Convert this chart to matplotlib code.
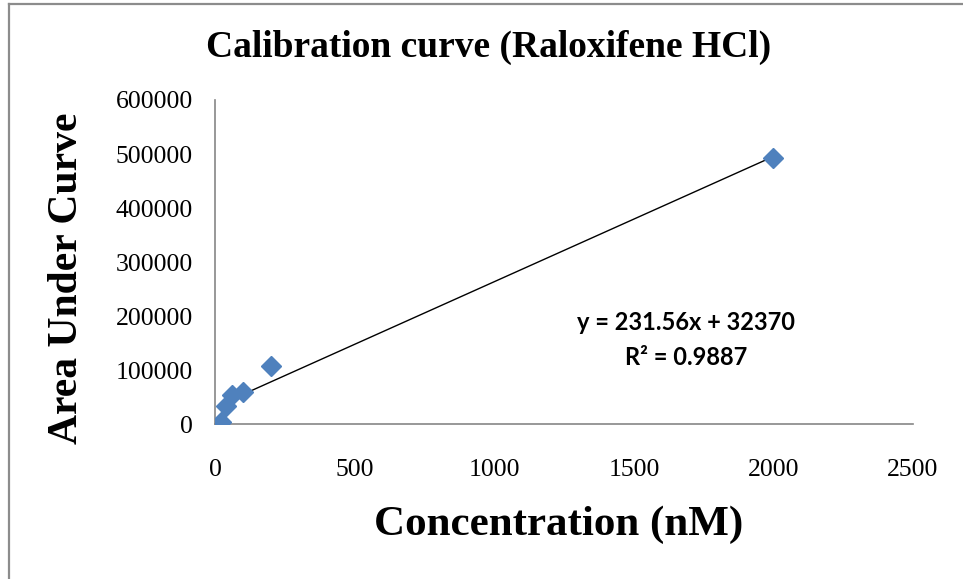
import numpy as np
import matplotlib
matplotlib.use("Agg")
import matplotlib.pyplot as plt
from matplotlib.lines import Line2D

# ----------------------------
# DATA
# ----------------------------
concentration = [20, 40, 60, 100, 200, 2000]          # nM
auc = [5000, 33000, 55000, 59000, 107000, 493000]     # area under curve

slope = 231.56
intercept = 32370
r_squared = 0.9887

x_ticks = [0, 500, 1000, 1500, 2000, 2500]
y_ticks = [0, 100000, 200000, 300000, 400000, 500000, 600000]

# ----------------------------
# FIGURE
# ----------------------------
fig = plt.figure(figsize=(9.63, 5.79), dpi=100)
ax = fig.add_axes([0.2236, 0.2672, 0.7245, 0.5601])

serif = "Liberation Serif"

# scatter points
ax.plot(
    concentration,
    auc,
    linestyle="none",
    marker="D",
    markersize=10,
    color="#4F81BD",
    zorder=3
)

# linear trendline over the data range
fit_x = np.array([min(concentration), max(concentration)])
fit_y = slope * fit_x + intercept
ax.plot(fit_x, fit_y, color="black", linewidth=1, zorder=2)

ax.set_xlim(0, 2500)
ax.set_ylim(0, 600000)
ax.set_xticks(x_ticks)
ax.set_yticks(y_ticks)
ax.set_xticklabels([str(t) for t in x_ticks], fontfamily=serif, fontsize=18.5)
ax.set_yticklabels([str(t) for t in y_ticks], fontfamily=serif, fontsize=18.5)
ax.tick_params(axis="both", length=0)
ax.tick_params(axis="x", pad=25)
ax.tick_params(axis="y", pad=16)

for side in ["top", "right"]:
    ax.spines[side].set_visible(False)
for side in ["left", "bottom"]:
    ax.spines[side].set_color("#868686")
    ax.spines[side].set_linewidth(1.2)

# ----------------------------
# TEXT
# ----------------------------
fig.text(
    0.507, 1 - 47 / 579,
    "Calibration curve (Raloxifene HCl)",
    ha="center", va="center",
    fontfamily=serif, fontweight="bold", fontsize=27
)

fig.text(
    0.58, 1 - 525 / 579,
    "Concentration (nM)",
    ha="center", va="center",
    fontfamily=serif, fontweight="bold", fontsize=31
)

fig.text(
    67 / 963, 1 - 278 / 579,
    "Area Under Curve",
    ha="center", va="center", rotation=90,
    fontfamily=serif, fontweight="bold", fontsize=30
)

fig.text(
    686 / 963, 1 - 340 / 579,
    f"y = {slope:.2f}x + {intercept}\nR² = {r_squared}",
    ha="center", va="center", multialignment="center",
    fontfamily="Lato", fontweight="bold", fontsize=17,
    linespacing=1.6
)

# ----------------------------
# OUTER FRAME
# ----------------------------
frame_color = "#8c8c8c"
fig.add_artist(Line2D([8.5 / 963, 8.5 / 963], [0, 1 - 3.5 / 579],
                      transform=fig.transFigure, color=frame_color, linewidth=1.6))
fig.add_artist(Line2D([8.5 / 963, 1], [1 - 3.5 / 579, 1 - 3.5 / 579],
                      transform=fig.transFigure, color=frame_color, linewidth=1.6))

fig.savefig("out.png", dpi=100)
